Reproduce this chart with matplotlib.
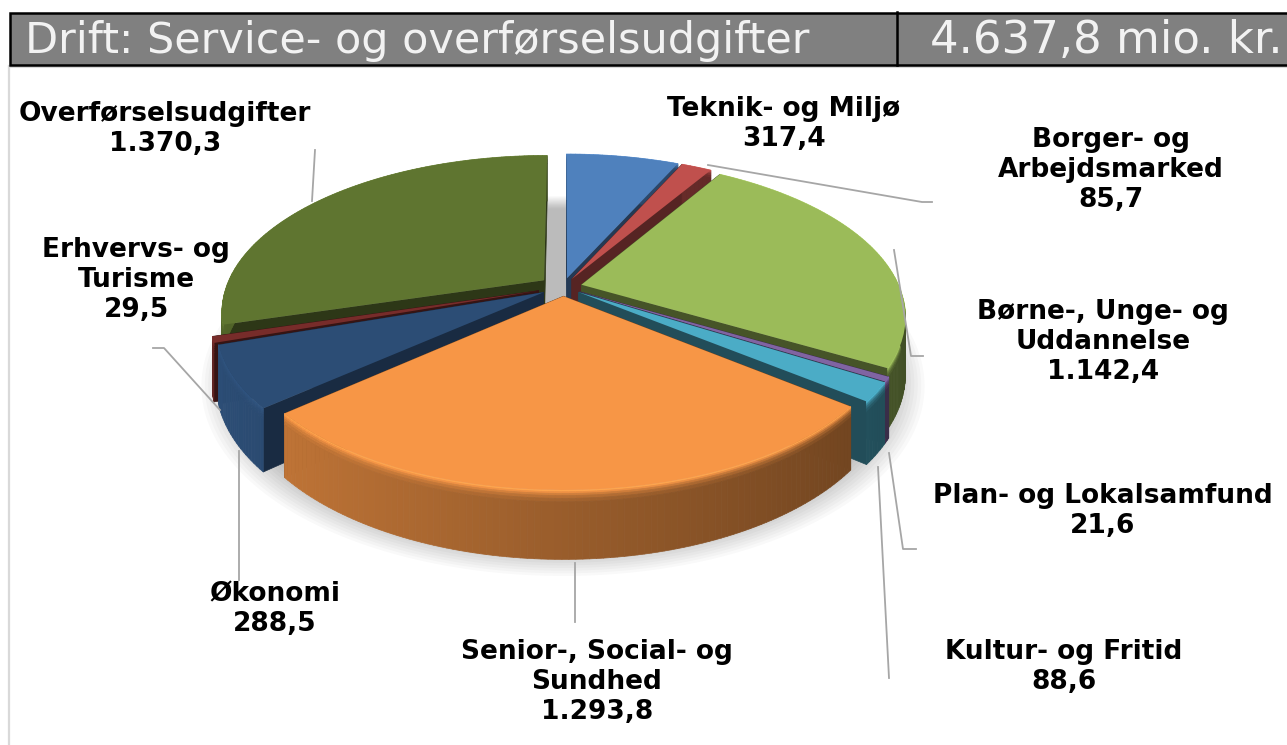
import numpy as np
import matplotlib
matplotlib.use("Agg")
import matplotlib.pyplot as plt
from matplotlib.collections import PolyCollection
from matplotlib.patches import Rectangle, Polygon
from matplotlib.transforms import Transform
from matplotlib.colors import to_rgb

# ---- data ----
categories = ["Teknik- og Miljø", "Borger- og\nArbejdsmarked", "Børne-, Unge- og\nUddannelse",
              "Plan- og Lokalsamfund", "Kultur- og Fritid", "Senior-, Social- og\nSundhed",
              "Økonomi", "Erhvervs- og\nTurisme", "Overførselsudgifter"]
values = [317.4, 85.7, 1142.4, 21.6, 88.6, 1293.8, 288.5, 29.5, 1370.3]
colors = ["#4F81BD", "#C0504D", "#9BBB59", "#8064A2", "#4BACC6", "#F79646", "#2C4D75", "#772C2A", "#5F7530"]
wall_gain = [1, 1, 1, 1, 1, 1, 1.25, 1, 1.05]
explode = [0.06, 0.06, 0.06, 0.06, 0.06, 0.06, 0.07, 0.08, 0.075]
label_pos = [(784, 124), (1111, 170), (1103, 342), (1103, 511), (1064, 667), (597, 682), (275, 609), (136, 280), (165, 129)]
title_left = "Drift: Service- og overførselsudgifter"
title_right = "4.637,8 mio. kr."

# leader lines, picture pixels
leaders = [
    [(708, 165), (922, 202), (932, 202)],
    [(894, 250), (911, 356), (923, 356)],
    [(889, 453), (903, 549), (916, 549)],
    [(878, 467), (889, 678)],
    [(575, 563), (575, 622)],
    [(239, 451), (239, 580)],
    [(220, 410), (164, 348), (153, 348)],
    [(315, 150), (312, 201)],
]

W, H = 1287, 745
CX, CY, A, B, K, D = 563, 287, 318, 151.7, 0.196, 55


def project(x, y, z=0.0):
    """Pie plane (x right, y up) + depth z to picture pixels, with perspective."""
    x, y = np.asarray(x, float), np.asarray(y, float)
    v = -y
    w = 1 / (1 - K * v)
    return CX + A * x * w, CY + B * v * w + D * w * z


class Perspective(Transform):
    input_dims = output_dims = 2

    def transform_non_affine(self, values):
        values = np.asarray(values, float)
        px, py = project(values[:, 0], values[:, 1])
        return np.column_stack([px, py])


def txt(rgb, f):
    return tuple(np.clip(np.array(rgb) * f, 0, 1))


fig = plt.figure(figsize=(W / 100, H / 100), dpi=100, facecolor="white")
ax = fig.add_axes([0, 0, 1, 1])

wedges, _ = ax.pie(values, colors=colors, startangle=90, counterclock=False,
                   explode=explode, wedgeprops=dict(linewidth=0))
ax.set_aspect("auto")
ax.set_xlim(0, W)
ax.set_ylim(H, 0)
ax.axis("off")
persp = Perspective() + ax.transData

# soft shadow under the pie
for r in np.linspace(1.11, 1.0, 12):
    t = np.radians(np.linspace(0, 360, 200))
    sx, sy = project(r * np.cos(t), r * np.sin(t), 1.05)
    ax.add_patch(Polygon(np.column_stack([sx, sy]), closed=True, fc="black", ec="none", alpha=0.022, zorder=1))

# draw slices back to front
mids = [np.radians((w.theta1 + w.theta2) / 2) for w in wedges]
order = np.argsort([-np.sin(m) for m in mids])
z_levels = [0, 0.025, 0.05, 0.08, 0.12, 0.17, 1.0]
for rank, i in enumerate(order):
    w = wedges[i]
    base = to_rgb(colors[i])
    zo = 2 + rank
    ox, oy = w.center
    # cut faces
    for th in (w.theta1, w.theta2):
        ex, ey = ox + np.cos(np.radians(th)), oy + np.sin(np.radians(th))
        p0 = project(ox, oy, 0); p1 = project(ex, ey, 0)
        p2 = project(ex, ey, 1); p3 = project(ox, oy, 1)
        ax.add_patch(Polygon([p0, p1, p2, p3], closed=True, fc=txt(base, 0.45 * wall_gain[i]),
                             ec=txt(base, 0.45 * wall_gain[i]), lw=0.5, zorder=zo))
    # outer wall with light bevel at its top
    th = np.radians(np.linspace(w.theta1, w.theta2, max(3, int(w.theta2 - w.theta1) + 2)))
    polys, cols = [], []
    for a0, a1 in zip(th[:-1], th[1:]):
        xa, ya = ox + np.cos(a0), oy + np.sin(a0)
        xb, yb = ox + np.cos(a1), oy + np.sin(a1)
        f = (0.62 - 0.2 * np.cos((a0 + a1) / 2)) * wall_gain[i]
        for j, (z0, z1) in enumerate(zip(z_levels[:-1], z_levels[1:])):
            q = [project(xa, ya, z0), project(xb, yb, z0), project(xb, yb, z1), project(xa, ya, z1)]
            polys.append(q)
            n = len(z_levels) - 2
            mix = ((n - j) / n) ** 1.5 if n else 0
            cols.append(txt(base, f + (1.1 - f) * mix))
    ax.add_collection(PolyCollection(polys, facecolors=cols, edgecolors=cols, linewidths=0.5, zorder=zo + 0.2),
                      autolim=False)
    w.set_transform(persp)
    w.set_zorder(zo + 0.5)

# leader lines
for pts in leaders:
    xs, ys = zip(*pts)
    ax.plot(xs, ys, color="#a6a6a6", lw=1.3, zorder=40, solid_joinstyle="round")


def fmt(v):
    s = f"{v:,.1f}"
    return s.replace(",", "#").replace(".", ",").replace("#", ".")


for name, v, (lx, ly) in zip(categories, values, label_pos):
    ax.text(lx, ly, f"{name}\n{fmt(v)}", ha="center", va="center", fontsize=19, fontweight="bold",
            color="black", family="DejaVu Sans", linespacing=1.2, zorder=50)

# header band
ax.plot([9, 9], [66, H], color="#d9d9d9", lw=1.6, zorder=55)
ax.plot([9, W], [66.5, 66.5], color="#d9d9d9", lw=1.5, zorder=55)
ax.add_patch(Rectangle((9.5, 12.5), W + 10, 52, fc="#808080", ec="black", lw=1.8, zorder=60))
ax.plot([897, 897], [12, 65], color="black", lw=1.8, zorder=61)
ax.text(25, 41, title_left, ha="left", va="center", fontsize=31, color="#f2f2f2", family="DejaVu Sans", zorder=62)
ax.text(1106, 41, title_right, ha="center", va="center", fontsize=32.4, color="#f2f2f2", family="DejaVu Sans", zorder=62)

fig.savefig("out.png", dpi=100, facecolor="white")
